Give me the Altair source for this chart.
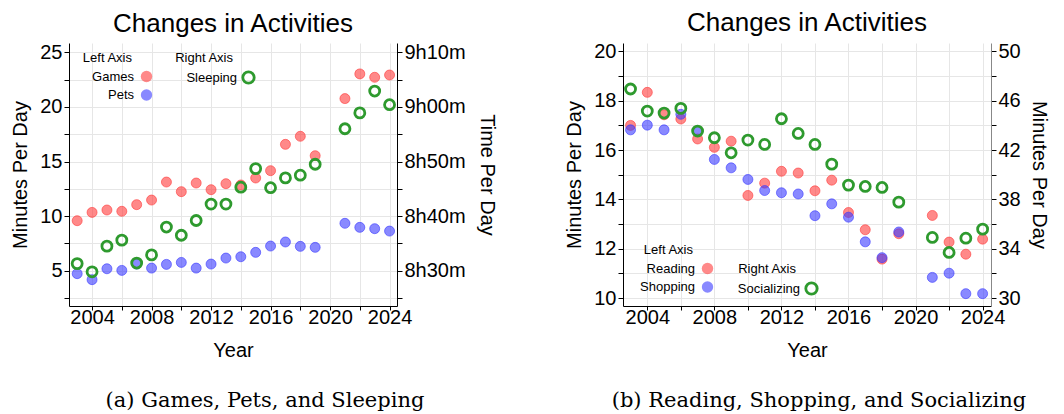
import altair as alt
import pandas as pd

years = [2003, 2004, 2005, 2006, 2007, 2008, 2009, 2010, 2011, 2012, 2013,
         2014, 2015, 2016, 2017, 2018, 2019, 2021, 2022, 2023, 2024]

# Panel (a): minutes per day (left axis) and sleeping minutes (right axis)
games = [9.58, 10.34, 10.56, 10.44, 11.05, 11.47, 13.12, 12.24, 13.03, 12.42, 12.97,
         12.85, 13.49, 14.16, 16.57, 17.31, 15.53, 20.76, 23.02, 22.71, 22.92]
pets = [4.73, 4.18, 5.18, 5.03, 5.61, 5.24, 5.58, 5.76, 5.24, 5.61, 6.16,
        6.28, 6.68, 7.26, 7.63, 7.23, 7.14, 9.34, 8.97, 8.85, 8.63]
sleeping = [511.3, 509.8, 514.5, 515.6, 511.4, 512.9, 518.0, 516.5, 519.2, 522.2, 522.2,
            525.3, 528.7, 525.2, 527.0, 527.5, 529.5, 536.0, 538.9, 542.9, 540.4]

# Panel (b)
reading = [17.00, 18.34, 17.43, 17.26, 16.45, 16.11, 16.36, 14.16, 14.66, 15.14, 15.07,
           14.35, 14.78, 13.47, 12.77, 11.58, 12.61, 13.35, 12.27, 11.78, 12.39]
shopping = [16.82, 17.01, 16.82, 17.45, 16.76, 15.62, 15.28, 14.81, 14.36, 14.27, 14.22,
            13.34, 13.82, 13.28, 12.28, 11.64, 12.68, 10.84, 11.01, 10.18, 10.18]
socializing = [46.95, 45.16, 45.00, 45.38, 43.54, 43.00, 41.78, 42.81, 42.46, 44.54, 43.35,
               42.46, 40.86, 39.16, 39.05, 38.97, 37.78, 34.92, 33.70, 34.86, 35.59]

RED = "#ff3b3b"
BLUE = "#3b3bff"
GREEN = "#2e9a2e"
FONT = "Liberation Sans"
H = 263


def long_df(series):
    rows = []
    for name, vals in series:
        for y, v in zip(years, vals):
            rows.append({"Year": y, "value": v, "series": name})
    return pd.DataFrame(rows)


def make_panel(left_series, right_series, width, xdom, ydomL, ydomR,
               yL_vals, yL_expr, yR_vals, yR_expr, right_title,
               legL, legR, caption, cap_x, yL_title_pad, yR_title_pad, r_domain_color):
    left_names = [n for n, _ in left_series]
    right_name = right_series[0][0]
    x = alt.X("Year:Q",
              scale=alt.Scale(domain=xdom, nice=False, zero=False),
              axis=alt.Axis(values=list(range(2004, 2025, 2)), format="d",
                            labelExpr="datum.value % 4 == 0 ? datum.label : ''",
                            title="Year", titlePadding=13, labelPadding=-3, tickSize=4))
    leg_common = dict(orient="none", labelAlign="right", labelOffset={"expr": "-19"},
                      symbolOffset=8, titleAlign="right", titleAnchor="start",
                      symbolSize=130, rowPadding=4.5, titlePadding=5, padding=0)
    left = alt.Chart(long_df(left_series)).mark_point(
        filled=True, size=100, fillOpacity=0.6, strokeOpacity=0.6, strokeWidth=1
    ).encode(
        x=x,
        y=alt.Y("value:Q",
                scale=alt.Scale(domain=ydomL, nice=False, zero=False),
                axis=alt.Axis(orient="left", title="Minutes Per Day", values=yL_vals,
                              labelExpr=yL_expr, titlePadding=yL_title_pad, labelPadding=2)),
        color=alt.Color("series:N",
                        scale=alt.Scale(domain=left_names, range=[RED, BLUE]),
                        legend=alt.Legend(title="Left Axis", legendX=legL[0], legendY=legL[1],
                                          symbolOpacity=0.6, **leg_common)),
        stroke=alt.Stroke("series:N",
                          scale=alt.Scale(domain=left_names, range=[RED, BLUE]),
                          legend=None),
    )
    right = alt.Chart(long_df(right_series)).mark_point(
        filled=False, size=100, strokeWidth=2.8, opacity=1
    ).encode(
        x=x,
        y=alt.Y("value:Q",
                scale=alt.Scale(domain=ydomR, nice=False, zero=False),
                axis=alt.Axis(orient="right", title=right_title, values=yR_vals,
                              labelExpr=yR_expr, grid=False, titlePadding=yR_title_pad,
                              labelPadding=2, domainColor=r_domain_color)),
        stroke=alt.Stroke("series:N",
                          scale=alt.Scale(domain=[right_name], range=[GREEN]),
                          legend=alt.Legend(title="Right Axis", legendX=legR[0], legendY=legR[1],
                                            symbolStrokeWidth=2.8, **leg_common)),
    )
    cap = alt.Chart(pd.DataFrame({"t": [caption]})).mark_text(
        font="DejaVu Serif", fontSize=21, align="center", baseline="alphabetic"
    ).encode(x=alt.value(cap_x), y=alt.value(364), text="t:N")
    return alt.layer(left, right, cap).resolve_scale(
        y="independent", stroke="independent"
    ).properties(
        width=width, height=H,
        title=alt.TitleParams("Changes in Activities", fontSize=26, font=FONT,
                              fontWeight="normal", anchor="middle", offset=5,
                              color="black"),
    )


panel_a = make_panel(
    [("Games", games), ("Pets", pets)], [("Sleeping", sleeping)],
    328, [2002.45, 2024.5], [1.77, 25.85], [503.54, 551.7],
    [2.5 * i for i in range(1, 11)],
    "datum.value % 5 == 0 ? datum.label : ''",
    list(range(505, 551, 5)),
    "datum.value % 10 == 0 ? (floor(datum.value / 60) + 'h' + (datum.value % 60 < 10 ? '0' : '') + (datum.value % 60) + 'm') : ''",
    "Time Per Day", (13, 9), (105, 9),
    "(a) Games, Pets, and Sleeping", 196, 9, 11, "black",
)

panel_b = make_panel(
    [("Reading", reading), ("Shopping", shopping)], [("Socializing", socializing)],
    368, [2002.55, 2024.5], [9.68, 20.34], [29.36, 50.68],
    list(range(10, 21)),
    "datum.value % 2 == 0 ? datum.label : ''",
    list(range(30, 51, 2)),
    "(datum.value - 30) % 4 == 0 ? datum.label : ''",
    "Minutes Per Day", (20, 201), (114, 220),
    "(b) Reading, Shopping, and Socializing", 196, 9, 8, "#888888",
)

chart = alt.hconcat(panel_a, panel_b, spacing=67).resolve_scale(
    color="independent", stroke="independent"
).resolve_legend(
    color="independent", stroke="independent"
).configure(
    padding={"left": 2, "top": 2, "right": 0, "bottom": 0}
).configure_view(stroke=None).configure_axis(
    labelFont=FONT, labelFontSize=20, labelColor="black",
    titleFont=FONT, titleFontSize=20, titleFontWeight="normal", titleColor="black",
    domainColor="black", tickColor="black", tickSize=5,
    gridColor="#e6e6e6", gridWidth=1,
).configure_legend(
    labelFont=FONT, labelFontSize=13, labelColor="black",
    titleFont=FONT, titleFontSize=13, titleFontWeight="normal", titleColor="black",
)

chart.save("out.html", embed_options={"renderer": "svg", "actions": False})
